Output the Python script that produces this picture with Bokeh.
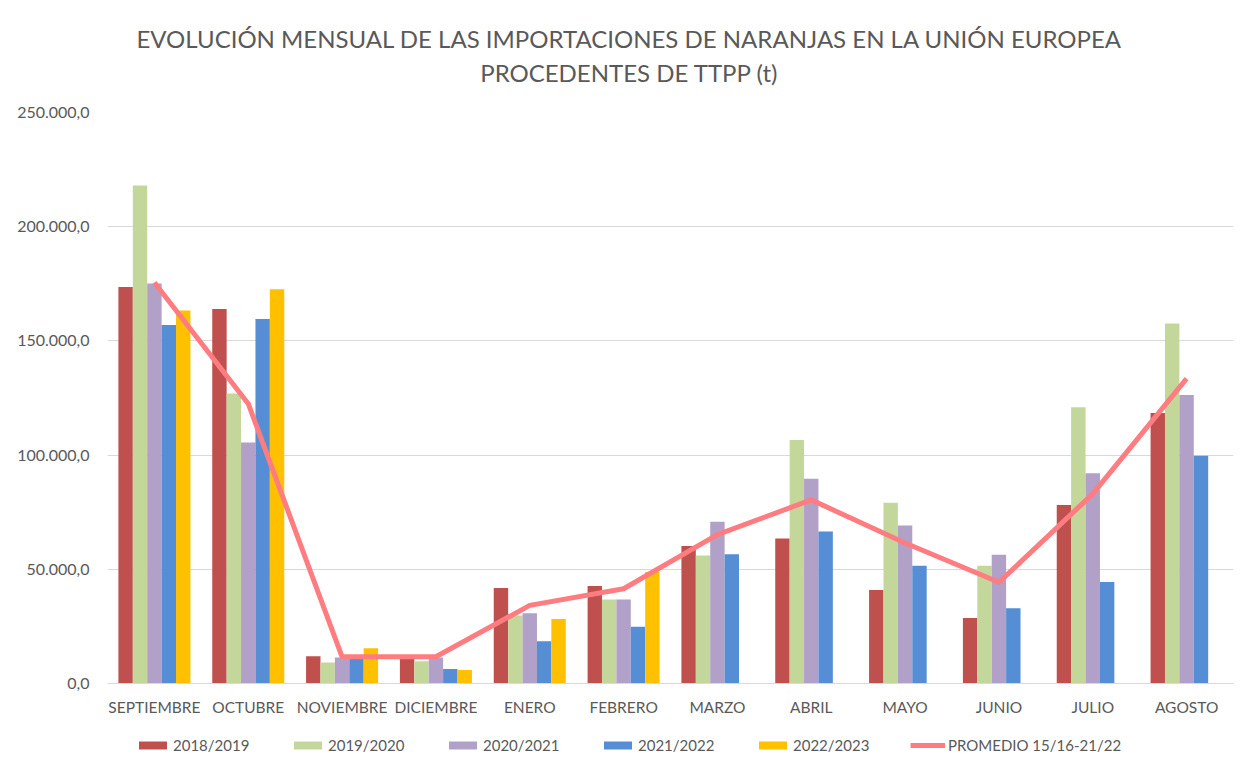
import math
from bokeh.plotting import figure
from bokeh.layouts import column
from bokeh.models import FactorRange, ColumnDataSource, FixedTicker, Legend, LegendItem
from bokeh.core.properties import value
from bokeh.transform import dodge
from bokeh.embed import file_html
from bokeh.resources import INLINE

months = ["SEPTIEMBRE", "OCTUBRE", "NOVIEMBRE", "DICIEMBRE", "ENERO", "FEBRERO",
          "MARZO", "ABRIL", "MAYO", "JUNIO", "JULIO", "AGOSTO"]
s2018_19 = [173600, 164000, 11900, 11000, 41800, 42700, 60200, 63500, 40900, 28700, 78200, 118400]
s2019_20 = [218000, 127000, 9200, 9700, 29800, 36800, 56000, 106600, 79100, 51600, 120900, 157600]
s2020_21 = [175100, 105500, 11400, 11400, 30800, 36800, 70800, 89600, 69200, 56400, 92100, 126300]
s2021_22 = [157000, 159600, 11000, 6300, 18500, 24900, 56600, 66500, 51600, 33000, 44400, 99700]
nan = float("nan")
s2022_23 = [163300, 172600, 15400, 5900, 28200, 48800, nan, nan, nan, nan, nan, nan]
promedio = [175600, 122500, 11700, 11700, 34200, 41500, 65200, 80400, 61500, 44300, 83000, 133500]

series_names = ["2018/2019", "2019/2020", "2020/2021", "2021/2022", "2022/2023"]
series_vals = [s2018_19, s2019_20, s2020_21, s2021_22, s2022_23]
line_name = "PROMEDIO 15/16-21/22"
colors = ["#C0504D", "#C4D79B", "#B1A0C7", "#558ED5", "#FFC000"]
line_color = "#FF7C80"

y_ticks = [0, 50000, 100000, 150000, 200000, 250000]
y_labels = ["0,0", "50.000,0", "100.000,0", "150.000,0", "200.000,0", "250.000,0"]

title_lines = ["EVOLUCIÓN MENSUAL DE LAS IMPORTACIONES DE NARANJAS EN LA UNIÓN EUROPEA",
               "PROCEDENTES DE TTPP (t)"]

FONT = "Lato"
GREY = "#595959"
W = 1245
LEFT, RIGHT = 107, 12

# ---- title strip (frames in a column are aligned with the main chart) ----
TH = 100
tf = figure(x_range=(LEFT, W - RIGHT), y_range=(0, TH), width=W, height=TH, output_backend="svg",
            toolbar_location=None, min_border=0)
tf.axis.visible = False
tf.grid.grid_line_color = None
tf.outline_line_color = None
tsrc = ColumnDataSource(dict(x=[629, 629], y=[TH - 38, TH - 72], t=title_lines))
tf.text(x="x", y="y", text="t", source=tsrc, text_font=value(FONT), text_font_size="24px",
        text_color=GREY, text_align="center", text_baseline="middle")

# ---- main chart ----
data = {"month": months, "prom": promedio}
for i, v in enumerate(series_vals):
    data["s%d" % i] = v
src = ColumnDataSource(data)

p = figure(x_range=FactorRange(*months), y_range=(0, 250000),
           width=W, height=725 - TH, output_backend="svg", toolbar_location=None,
           min_border_left=LEFT, min_border_right=RIGHT, min_border_top=112 - TH, min_border_bottom=42)
p.outline_line_color = None
p.background_fill_color = "white"
p.border_fill_color = "white"

bw = 0.1535
offsets = [-2 * bw, -bw, 0, bw, 2 * bw]
bar_renderers = []
for i in range(5):
    r = p.vbar(x=dodge("month", offsets[i], range=p.x_range), top="s%d" % i, width=bw,
               source=src, fill_color=colors[i], line_color=None)
    bar_renderers.append(r)

lr = p.line(x="month", y="prom", source=src, line_color=line_color, line_width=5, line_join="round")

p.yaxis.ticker = FixedTicker(ticks=y_ticks)
p.yaxis.major_label_overrides = {t: l for t, l in zip(y_ticks, y_labels)}
p.yaxis.axis_line_color = None
p.yaxis.major_tick_line_color = None
p.yaxis.minor_tick_line_color = None
p.yaxis.major_label_text_font = FONT
p.yaxis.major_label_text_font_size = "16px"
p.yaxis.major_label_text_color = GREY
p.yaxis.major_label_standoff = 12

p.xaxis.axis_line_color = "#D9D9D9"
p.xaxis.axis_line_width = 1
p.xaxis.major_tick_line_color = None
p.xaxis.minor_tick_line_color = None
p.xaxis.major_label_text_font = FONT
p.xaxis.major_label_text_font_size = "15.5px"
p.xaxis.major_label_text_color = GREY
p.xaxis.major_label_standoff = 8

p.xgrid.grid_line_color = None
p.ygrid.grid_line_color = "#D9D9D9"
p.ygrid.grid_line_width = 1

# ---- legend strip ----
lg = figure(x_range=(0, 1), y_range=(0, 1), width=W, height=38, output_backend="svg",
            toolbar_location=None, min_border=0)
lg.axis.visible = False
lg.grid.grid_line_color = None
lg.outline_line_color = None
bar_dummy = ColumnDataSource(dict(x=[0.5], top=[0.0]))
line_dummy = ColumnDataSource(dict(x=[0.4, 0.6], y=[-5.0, -5.0]))
leg_items = []
for i in range(5):
    rr = lg.vbar(x="x", top="top", bottom=0, width=0.0, source=bar_dummy,
                 fill_color=colors[i], line_color=None)
    leg_items.append(LegendItem(label=series_names[i], renderers=[rr]))
rl = lg.line(x="x", y="y", source=line_dummy, line_color=line_color, line_width=5)
leg_items.append(LegendItem(label=line_name, renderers=[rl]))
legend = Legend(items=leg_items, orientation="horizontal", location=(28, 9),
                label_text_font=FONT, label_text_font_size="15px", label_text_color=GREY,
                glyph_width=35, glyph_height=10, label_standoff=3, label_width=117,
                spacing=0, padding=0, margin=0, border_line_color=None,
                background_fill_alpha=0)
lg.add_layout(legend, "center")

open("out.html", "w").write(file_html(column(tf, p, lg, spacing=0), INLINE))
